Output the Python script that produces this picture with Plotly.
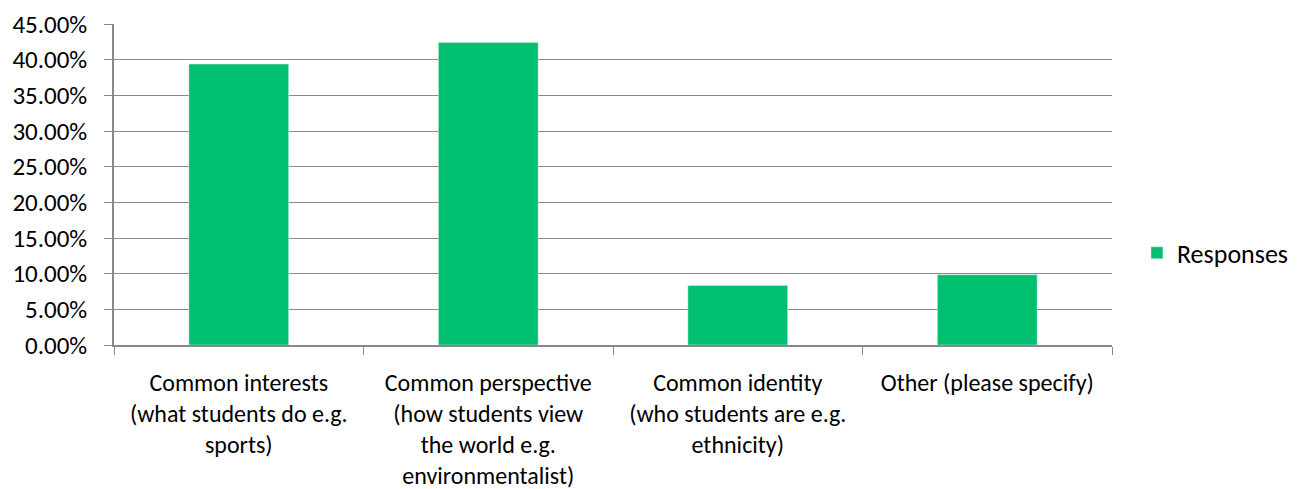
import plotly.graph_objects as go

# Survey categories and share of responses
categories = [
    "Common interests<br>(what students do e.g.<br>sports)",
    "Common perspective<br>(how students view<br>the world e.g.<br>environmentalist)",
    "Common identity<br>(who students are e.g.<br>ethnicity)",
    "Other (please specify)",
]
responses = [0.3939, 0.4242, 0.0833, 0.0985]
y_ticks = [0, 0.05, 0.10, 0.15, 0.20, 0.25, 0.30, 0.35, 0.40, 0.45]

FONT = "Calibri, Carlito, Lato, sans-serif"
GRID = "#898989"
TEXT = "#000000"

fig = go.Figure(
    go.Bar(
        x=categories,
        y=responses,
        name="Responses",
        marker=dict(color="#00BF6F"),
        showlegend=True,
    )
)

fig.update_layout(
    width=1299,
    height=489,
    margin=dict(l=114, r=187, t=24, b=144, autoexpand=False),
    plot_bgcolor="white",
    paper_bgcolor="white",
    bargap=0.6,
    font=dict(family=FONT, size=24, color=TEXT),
    legend=dict(
        x=1.025,
        y=0.287,
        xanchor="left",
        yanchor="middle",
        font=dict(family=FONT, size=26, color=TEXT),
        itemwidth=30,
    ),
    xaxis=dict(
        type="category",
        automargin=False,
        tickson="boundaries",
        ticks="outside",
        ticklen=8,
        tickcolor=GRID,
        showline=True,
        linecolor=GRID,
        linewidth=1.5,
        showgrid=False,
        ticklabelstandoff=15,
        tickfont=dict(family=FONT, size=24, color=TEXT),
    ),
    yaxis=dict(
        range=[0, 0.45],
        automargin=False,
        tickvals=y_ticks,
        tickformat=".2%",
        ticks="outside",
        ticklen=8,
        tickcolor=GRID,
        showline=True,
        linecolor=GRID,
        linewidth=1.5,
        showgrid=True,
        gridcolor=GRID,
        gridwidth=1.4,
        zeroline=False,
        ticklabelstandoff=12,
        tickfont=dict(family=FONT, size=25, color=TEXT),
    ),
)

fig.write_html("out.html")
